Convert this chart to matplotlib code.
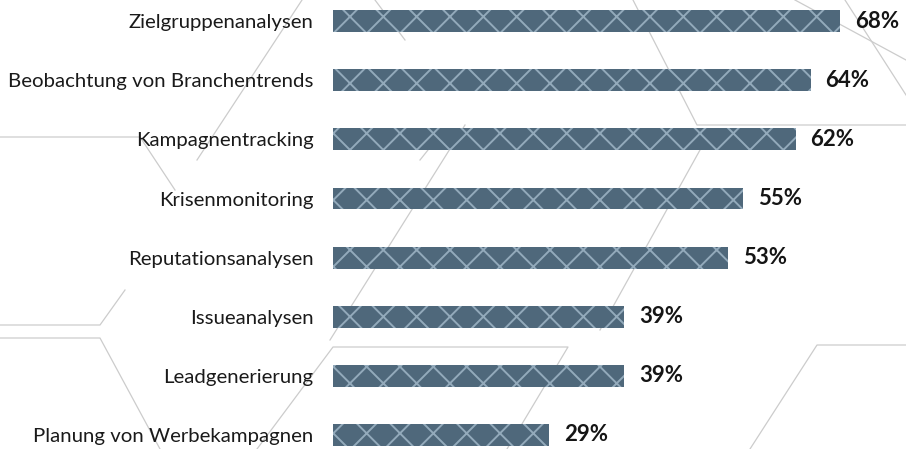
import matplotlib
matplotlib.use("Agg")
import matplotlib.pyplot as plt

# data
categories = [
    "Zielgruppenanalysen",
    "Beobachtung von Branchentrends",
    "Kampagnentracking",
    "Krisenmonitoring",
    "Reputationsanalysen",
    "Issueanalysen",
    "Leadgenerierung",
    "Planung von Werbekampagnen",
]
values = [68, 64, 62, 55, 53, 39, 39, 29]

plt.rcParams["font.family"] = ["Lato", "DejaVu Sans"]
plt.rcParams["hatch.linewidth"] = 1.4

W, H = 906, 449
fig = plt.figure(figsize=(W / 100, H / 100), dpi=100)

# decorative hexagon outline lines in the background (pixel coords)
bg = fig.add_axes([0, 0, 1, 1], zorder=0)
bg.set_xlim(0, W)
bg.set_ylim(H, 0)
bg.axis("off")
deco = [
    [(302, 0), (197, 160)],
    [(0, 137), (140, 137), (175, 190)],
    [(0, 325), (100, 325), (125, 290)],
    [(0, 338), (100, 338), (160, 449)],
    [(257, 449), (333, 347), (568, 347), (507, 449)],
    [(633, 0), (697, 125), (906, 125)],
    [(845, 0), (906, 95)],
    [(795, 0), (906, 60)],
    [(750, 449), (817, 345), (906, 345)],
    [(465, 125), (330, 340)],
    [(440, 135), (420, 160)],
    [(700, 150), (600, 330)],
    [(375, 0), (405, 40)],
]
for pts in deco:
    xs, ys = zip(*pts)
    bg.plot(xs, ys, color="#cccccc", lw=0.9)

ax = fig.add_axes([333 / W, 0, 1 - 333 / W, 1], zorder=1)
ax.patch.set_alpha(0)
ypos = list(range(len(categories)))
ax.barh(ypos, values, height=0.37, color="#4f687b",
        edgecolor="#93aabb", hatch="x", linewidth=0)
for y, v in zip(ypos, values):
    ax.text(v + 2.0, y, f"{v}%", va="center", ha="left",
            fontsize=16, fontweight="bold", color="#151515")

ax.set_xlim(0, 76.8)
ax.set_ylim(7.24, -0.36)
ax.set_yticks(ypos)
ax.set_yticklabels(categories, fontsize=14.7, color="#1a1a1a")
ax.tick_params(axis="y", length=0, pad=14)
ax.set_xticks([])
for s in ax.spines.values():
    s.set_visible(False)

fig.savefig("out.png", dpi=100)
